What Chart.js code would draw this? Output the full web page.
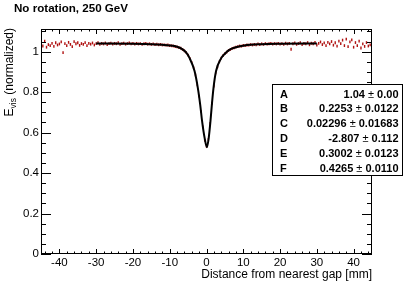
<!DOCTYPE html>
<html>
<head>
<meta charset="utf-8">
<script src="https://cdn.jsdelivr.net/npm/chart.js@4"></script>
<style>
  html, body { margin: 0; padding: 0; background: #fff; }
</style>
</head>
<body>
<canvas id="myChart" width="415" height="283"></canvas>
<script>
const tituloGrafico = "No rotation, 250 GeV";
const tituloX = "Distance from nearest gap [mm]";
const tituloY = ["E", "vis", " (normalized)"];

// etiquetas de los ejes
const xTicks = [-40, -30, -20, -10, 0, 10, 20, 30, 40];
const yTicks = [0, 0.2, 0.4, 0.6, 0.8, 1];

// histograma: bins de 0.5 mm desde -44.5 hasta 44.5
const binInicio = -44.5;
const binAncho = 0.5;
const valoresEvis = [
    1.028, 1.052, 1.022, 1.035, 1.030, 1.041, 1.026, 1.044, 1.033, 1.038,
    1.048, 0.995, 1.040, 1.030, 1.046, 1.036, 1.025, 1.050, 1.039, 1.044,
    1.031, 1.040, 1.036, 1.045, 1.030, 1.041, 1.037, 1.043, 1.033, 1.040,
    1.044, 1.036, 1.041, 1.038, 1.043, 1.035, 1.040, 1.042, 1.037, 1.041,
    1.039, 1.044, 1.036, 1.040, 1.042, 1.037, 1.040, 1.043, 1.038, 1.041,
    1.037, 1.041, 1.038, 1.040, 1.036, 1.039, 1.041, 1.037, 1.039, 1.036,
    1.038, 1.035, 1.037, 1.034, 1.036, 1.033, 1.034, 1.032, 1.033, 1.030,
    1.029, 1.028, 1.025, 1.024, 1.020, 1.017, 1.011, 1.004, 0.995, 0.983,
    0.966, 0.946, 0.920, 0.885, 0.836, 0.780, 0.705, 0.628, 0.562, 0.532,
    0.566, 0.646, 0.745, 0.830, 0.895, 0.925, 0.950, 0.968, 0.980, 0.990,
    0.998, 1.006, 1.011, 1.016, 1.019, 1.022, 1.025, 1.028, 1.027, 1.031,
    1.030, 1.033, 1.032, 1.035, 1.033, 1.036, 1.034, 1.038, 1.035, 1.039,
    1.036, 1.040, 1.037, 1.039, 1.041, 1.037, 1.040, 1.038, 1.041, 1.037,
    1.040, 1.036, 1.042, 1.038, 1.041, 1.012, 1.039, 1.043, 1.036, 1.040,
    1.044, 1.035, 1.041, 1.038, 1.045, 1.034, 1.042, 1.039, 1.046, 1.033,
    1.041, 1.048, 1.035, 1.043, 1.030, 1.046, 1.038, 1.050, 1.032, 1.044,
    1.027, 1.052, 1.040, 1.057, 1.030, 1.062, 1.025, 1.048, 1.058, 1.022,
    1.045, 1.030, 1.052, 1.018, 1.038, 1.026, 1.045, 1.028, 1.034
];

// curva de ajuste (rango -30 a 30 mm)
const ajusteX = [-30, -20, -15, -12, -10, -8, -6.4, -5.5, -4.6, -3.25, -2.35, -1.7, -1.2, -0.5, 0.1,
    0.6, 1.08, 1.45, 1.9, 2.6, 4.0, 5.0, 6.2, 8, 10.3, 15, 20, 30];
const ajusteY = [1.040, 1.039, 1.037, 1.034, 1.031, 1.024, 1.010, 0.995, 0.968, 0.904, 0.820, 0.736, 0.657, 0.573, 0.528,
    0.573, 0.657, 0.736, 0.820, 0.904, 0.968, 0.990, 1.009, 1.022, 1.031, 1.037, 1.039, 1.040];

// caja de parametros del ajuste
const parNombres = ["A", "B", "C", "D", "E", "F"];
const parValores = ["1.04", "0.2253", "0.02296", "-2.807", "0.3002", "0.4265"];
const parErrores = ["0.00", "0.0122", "0.01683", "0.112", "0.0123", "0.0110"];

const fuente = "'Liberation Sans', Arial, Helvetica, sans-serif";

const puntosHist = valoresEvis.map((v, i) => ({ x: binInicio + i * binAncho, y: v }));
const puntosAjuste = ajusteX.map((x, i) => ({ x: x, y: ajusteY[i] }));

// marco con ticks hacia adentro, estilo ROOT
const marcoRoot = {
    id: 'marcoRoot',
    afterDatasetsDraw(chart) {
        const { ctx, chartArea: a, scales: { x, y } } = chart;
        ctx.save();
        ctx.strokeStyle = '#000';
        ctx.lineWidth = 1;
        ctx.strokeRect(a.left + 0.5, a.top + 0.5, a.right - a.left - 1, a.bottom - a.top - 1);
        ctx.beginPath();
        for (let v = -44; v <= 44; v += 2) {
            const px = Math.round(x.getPixelForValue(v)) + 0.5;
            const largo = v % 10 === 0 ? 5 : 2.5;
            ctx.moveTo(px, a.bottom); ctx.lineTo(px, a.bottom - largo);
            ctx.moveTo(px, a.top); ctx.lineTo(px, a.top + largo);
        }
        for (let i = 0; i <= 22; i++) {
            const py = Math.round(y.getPixelForValue(i * 0.05)) + 0.5;
            const largo = i % 4 === 0 ? 10 : 5;
            ctx.moveTo(a.left, py); ctx.lineTo(a.left + largo, py);
            ctx.moveTo(a.right, py); ctx.lineTo(a.right - largo, py);
        }
        ctx.stroke();
        ctx.restore();
    },
    afterDraw(chart) {
        const { ctx } = chart;
        ctx.save();
        ctx.fillStyle = '#000';
        // titulo
        ctx.font = "bold 11.6px " + fuente;
        ctx.textBaseline = 'middle';
        ctx.textAlign = 'left';
        ctx.fillText(tituloGrafico, 14, 9);

        // titulo eje Y con subindice
        ctx.translate(9.5, 28);
        ctx.rotate(-Math.PI / 2);
        const fNormal = "12px " + fuente;
        const fSub = "8.5px " + fuente;
        ctx.font = fNormal;
        const w0 = ctx.measureText(tituloY[0]).width;
        const w2 = ctx.measureText(tituloY[2]).width;
        ctx.font = fSub;
        const w1 = ctx.measureText(tituloY[1]).width;
        let pos = -(w0 + w1 + w2);
        ctx.font = fNormal;
        ctx.fillText(tituloY[0], pos, 0);
        pos += w0;
        ctx.font = fSub;
        ctx.fillText(tituloY[1], pos, 4);
        pos += w1;
        ctx.font = fNormal;
        ctx.fillText(tituloY[2], pos, 0);
        ctx.restore();

        // caja de estadisticas
        ctx.save();
        const bx = 272, by = 84, bw = 131, bh = 92;
        ctx.fillStyle = '#fff';
        ctx.fillRect(bx, by, bw, bh);
        ctx.strokeStyle = '#000';
        ctx.lineWidth = 1;
        ctx.strokeRect(bx + 0.5, by + 0.5, bw - 1, bh - 1);
        ctx.fillStyle = '#000';
        ctx.textBaseline = 'middle';
        const fBold = "bold 11px " + fuente;
        for (let i = 0; i < parNombres.length; i++) {
            const fy = 94.5 + i * 14.9;
            ctx.font = fBold;
            ctx.textAlign = 'left';
            ctx.fillText(parNombres[i], 280, fy);
            ctx.textAlign = 'right';
            const err = parErrores[i];
            ctx.fillText(err, 398.5, fy);
            let xr = 398.5 - ctx.measureText(err + " ").width;
            ctx.font = "11px " + fuente;
            ctx.fillText("\u00b1", xr, fy);
            xr -= ctx.measureText("\u00b1 ").width;
            ctx.font = fBold;
            ctx.fillText(parValores[i], xr, fy);
        }
        ctx.restore();
    }
};

const ctx = document.getElementById('myChart').getContext('2d');

const chart = new Chart(ctx, {
    type: 'scatter',
    data: {
        datasets: [{
            type: 'line',
            label: 'ajuste',
            data: puntosAjuste,
            borderColor: '#000',
            borderWidth: 2,
            pointRadius: 0,
            fill: false,
            cubicInterpolationMode: 'monotone',
            order: 0
        }, {
            label: 'Evis',
            data: puntosHist,
            pointStyle: 'line',
            rotation: 90,
            pointRadius: 1.4,
            borderWidth: 1.4,
            borderColor: '#b01212',
            backgroundColor: '#b01212',
            order: 1
        }]
    },
    options: {
        responsive: false,
        animation: false,
        devicePixelRatio: 1,
        layout: {
            padding: { left: 0, right: 43, top: 29, bottom: 0 }
        },
        plugins: {
            legend: { display: false },
            tooltip: { enabled: false }
        },
        scales: {
            x: {
                type: 'linear',
                min: -45,
                max: 45,
                afterBuildTicks: axis => { axis.ticks = xTicks.map(v => ({ value: v })); },
                afterFit: scale => { scale.height = 29; },
                grid: { display: false, drawTicks: false },
                border: { display: false },
                ticks: {
                    padding: 2,
                    color: '#000',
                    maxRotation: 0,
                    font: { family: fuente, size: 11.5 },
                    callback: v => String(v)
                },
                title: {
                    display: true,
                    text: tituloX,
                    align: 'end',
                    color: '#000',
                    font: { family: fuente, size: 12 },
                    padding: { top: 0, bottom: 1.5 }
                }
            },
            y: {
                type: 'linear',
                min: 0,
                max: 1.112,
                afterBuildTicks: axis => { axis.ticks = yTicks.map(v => ({ value: v })); },
                afterFit: scale => { scale.width = 41; },
                grid: { display: false, drawTicks: false },
                border: { display: false },
                ticks: {
                    padding: 2,
                    color: '#000',
                    font: { family: fuente, size: 11.5 },
                    callback: v => String(parseFloat(v.toFixed(1)))
                }
            }
        }
    },
    plugins: [marcoRoot]
});
</script>
</body>
</html>
